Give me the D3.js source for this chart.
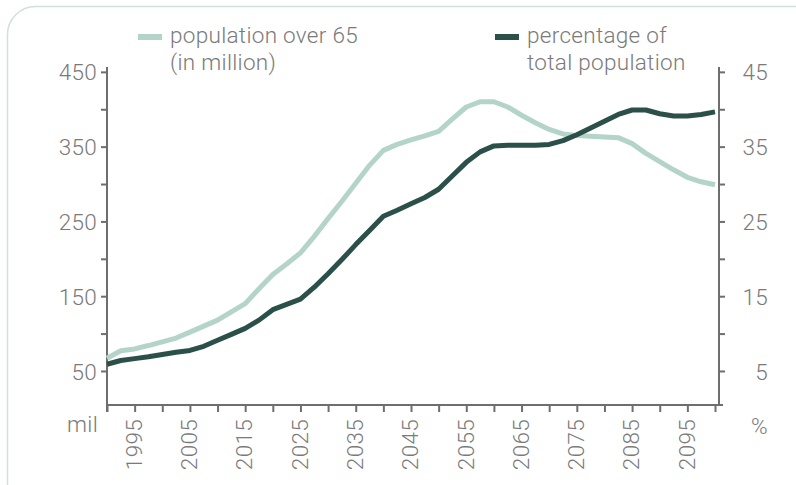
<!DOCTYPE html>
<html>
<head>
<meta charset="utf-8">
<script src="https://cdn.jsdelivr.net/npm/d3@7"></script>
<style>
  html, body { margin: 0; padding: 0; background: #fff; }
  svg { display: block; }
  text { font-family: Roboto, "Liberation Sans", Arial, sans-serif; font-weight: 300; fill: #7a7a7a; letter-spacing: 0.3px; }
</style>
</head>
<body>
<svg id="chart" width="796" height="485"></svg>
<script>
// ---- data ----
const years = [1990, 1992.5, 1995, 1997.5, 2000, 2002.5, 2005, 2007.5, 2010, 2012.5, 2015, 2017.5,
  2020, 2022.5, 2025, 2027.5, 2030, 2032.5, 2035, 2037.5, 2040, 2042.5, 2045, 2047.5, 2050, 2052.5,
  2055, 2057.5, 2060, 2062.5, 2065, 2067.5, 2070, 2072.5, 2075, 2077.5, 2080, 2082.5, 2085, 2087.5,
  2090, 2092.5, 2095, 2097.5, 2100];
const popOver65 = [67, 77, 79.5, 84, 89, 94, 102, 110, 118, 129, 140, 160,
  179, 193, 208, 230, 254, 277, 301, 325, 345, 353, 359, 364.5, 370.5, 387,
  403, 410, 410, 403, 392, 382, 373, 367, 365, 364, 363, 362, 354, 341,
  330, 319, 309, 303, 299];
const pctTotal = [5.9, 6.4, 6.65, 6.9, 7.2, 7.5, 7.75, 8.3, 9.1, 9.9, 10.7, 11.8,
  13.2, 13.9, 14.6, 16.2, 18.0, 19.9, 21.9, 23.8, 25.7, 26.5, 27.35, 28.2, 29.3, 31.1,
  32.9, 34.3, 35.1, 35.2, 35.2, 35.2, 35.3, 35.8, 36.6, 37.5, 38.4, 39.3, 39.9, 39.9,
  39.4, 39.1, 39.1, 39.3, 39.65];
const xTickYears = d3.range(1990, 2101, 5);
const xLabelYears = [1995, 2005, 2015, 2025, 2035, 2045, 2055, 2065, 2075, 2085, 2095];
const leftTicks = [50, 100, 150, 200, 250, 300, 350, 400, 450];
const leftLabels = [50, 150, 250, 350, 450];
const rightTicks = [5, 10, 15, 20, 25, 30, 35, 40, 45];
const rightLabels = [5, 15, 25, 35, 45];
const legendItems = [
  {lines: ["population over 65", "(in million)"], color: "#b5d4c9"},
  {lines: ["percentage of", "total population"], color: "#2b5049"}
];

// ---- layout ----
const svg = d3.select("#chart");
const axisColor = "#6e6e6e";
const L = 107, R = 719, T = 67, B = 405;
const fs = "22.5px";

// frame
svg.append("rect").attr("x", 7.5).attr("y", 6.5).attr("width", 900).attr("height", 600)
  .attr("rx", 28).attr("fill", "none").attr("stroke", "#cfe1dc").attr("stroke-width", 1.5);

const x = d3.scaleLinear().domain([1990, 2100]).range([L, 715]);
const yL = d3.scaleLinear().domain([4.5, 456.5]).range([B, T]);
const yR = d3.scaleLinear().domain([0.45, 45.65]).range([B, T]);

function styleAxis(g) {
  g.selectAll("line").attr("stroke", axisColor).attr("stroke-width", 2);
  g.selectAll("text").style("font-size", fs).attr("fill", "#7a7a7a");
}

// left axis
const gL = svg.append("g").attr("transform", `translate(${L},0)`)
  .call(d3.axisLeft(yL).tickValues(leftTicks).tickSize(6).tickSizeOuter(0)
    .tickFormat(d => leftLabels.includes(d) ? d : ""));
gL.select(".domain").remove();
gL.append("line").attr("y1", T).attr("y2", B + 7);
gL.selectAll(".tick text").attr("x", -10).attr("dy", "0.36em");
styleAxis(gL);

// right axis
const gR = svg.append("g").attr("transform", `translate(${R},0)`)
  .call(d3.axisRight(yR).tickValues(rightTicks).tickSize(6).tickSizeOuter(0)
    .tickFormat(d => rightLabels.includes(d) ? d : ""));
gR.select(".domain").remove();
gR.append("line").attr("y1", T).attr("y2", B);
gR.selectAll(".tick text").attr("x", 49).attr("text-anchor", "end").attr("dy", "0.36em");
styleAxis(gR);

// bottom axis
const gB = svg.append("g").attr("transform", `translate(0,${B})`)
  .call(d3.axisBottom(x).tickValues(xTickYears).tickSize(7).tickSizeOuter(0)
    .tickFormat(d => xLabelYears.includes(d) ? d : ""));
gB.select(".domain").remove();
gB.append("line").attr("x1", L).attr("x2", 723);
gB.selectAll(".tick text")
  .attr("text-anchor", "end")
  .attr("transform", "translate(0,14) rotate(-90)")
  .attr("x", 0).attr("y", 0).attr("dy", "0.3em");
styleAxis(gB);

// unit labels
svg.append("text").attr("x", 98).attr("y", 432).attr("text-anchor", "end")
  .style("font-size", fs).text("mil");
svg.append("text").attr("x", 768).attr("y", 434).attr("text-anchor", "end")
  .style("font-size", fs).text("%");

// lines
const lineL = d3.line().x((d, i) => x(years[i])).y(d => yL(d));
const lineR = d3.line().x((d, i) => x(years[i])).y(d => yR(d));
svg.append("path").datum(popOver65).attr("d", lineL).attr("fill", "none")
  .attr("stroke", legendItems[0].color).attr("stroke-width", 5).attr("stroke-linejoin", "round");
svg.append("path").datum(pctTotal).attr("d", lineR).attr("fill", "none")
  .attr("stroke", legendItems[1].color).attr("stroke-width", 5).attr("stroke-linejoin", "round");

// legend
const legendX = [138, 495];
legendItems.forEach((it, i) => {
  const g = svg.append("g").attr("transform", `translate(${legendX[i]},0)`);
  g.append("rect").attr("x", 0).attr("y", 34).attr("width", 24).attr("height", 6).attr("fill", it.color);
  it.lines.forEach((t, j) => {
    g.append("text").attr("x", 32).attr("y", 43 + j * 27).style("font-size", fs).text(t);
  });
});
</script>
</body>
</html>
